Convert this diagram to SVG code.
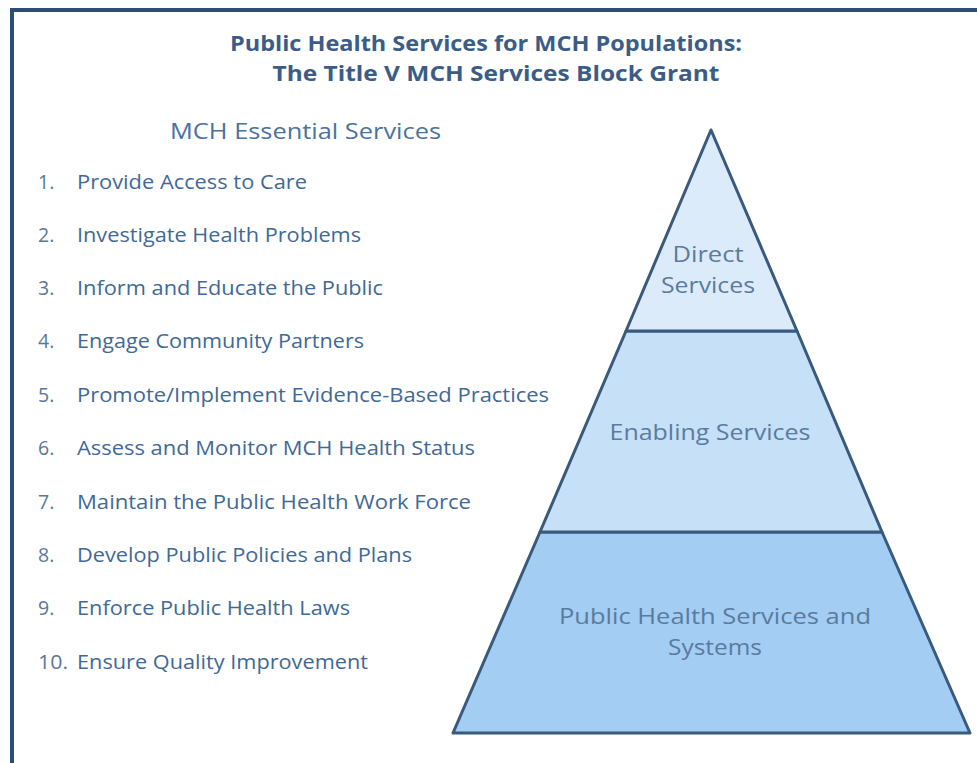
<svg xmlns="http://www.w3.org/2000/svg" width="977" height="763" viewBox="0 0 977 763">
<style>
.t{font-family:"Open Sans",Lato,"Liberation Sans",sans-serif;}
.title{font-size:21px;font-weight:bold;fill:#3b5c86;text-anchor:middle;}
.head{font-size:21.5px;fill:#4a72a0;}
.item{font-size:19.5px;fill:#3f6996;}
.num{font-size:19.5px;fill:#5a7898;}
.pl{font-size:21.5px;fill:#5a7b9e;text-anchor:middle;}
.tier{stroke:#395a7d;stroke-width:3;stroke-linejoin:round;}
</style>
<rect width="977" height="763" fill="#ffffff"/>
<g id="frame">
<path d="M12,763 V10 H977" fill="none" stroke="#2c4d74" stroke-width="4"/>
</g>
<g id="title" class="t">
<text class="title" x="486" y="51" textLength="512" lengthAdjust="spacingAndGlyphs">Public Health Services for MCH Populations:</text>
<text class="title" x="496" y="81" textLength="447" lengthAdjust="spacingAndGlyphs">The Title V MCH Services Block Grant</text>
</g>
<g id="essential-services" class="t">
<text class="head" x="170" y="139" textLength="271" lengthAdjust="spacingAndGlyphs">MCH Essential Services</text>
<text class="num" x="38" y="189">1.</text><text class="item" x="77" y="189" textLength="230" lengthAdjust="spacingAndGlyphs">Provide Access to Care</text>
<text class="num" x="38" y="242">2.</text><text class="item" x="77" y="242" textLength="284" lengthAdjust="spacingAndGlyphs">Investigate Health Problems</text>
<text class="num" x="38" y="295">3.</text><text class="item" x="77" y="295" textLength="306" lengthAdjust="spacingAndGlyphs">Inform and Educate the Public</text>
<text class="num" x="38" y="348">4.</text><text class="item" x="77" y="348" textLength="287" lengthAdjust="spacingAndGlyphs">Engage Community Partners</text>
<text class="num" x="38" y="402">5.</text><text class="item" x="77" y="402" textLength="472" lengthAdjust="spacingAndGlyphs">Promote/Implement Evidence-Based Practices</text>
<text class="num" x="38" y="455">6.</text><text class="item" x="77" y="455" textLength="398" lengthAdjust="spacingAndGlyphs">Assess and Monitor MCH Health Status</text>
<text class="num" x="38" y="509">7.</text><text class="item" x="77" y="509" textLength="394" lengthAdjust="spacingAndGlyphs">Maintain the Public Health Work Force</text>
<text class="num" x="38" y="562">8.</text><text class="item" x="77" y="562" textLength="335" lengthAdjust="spacingAndGlyphs">Develop Public Policies and Plans</text>
<text class="num" x="38" y="615">9.</text><text class="item" x="77" y="615" textLength="273" lengthAdjust="spacingAndGlyphs">Enforce Public Health Laws</text>
<text class="num" x="38" y="669" textLength="30" lengthAdjust="spacingAndGlyphs">10.</text><text class="item" x="77" y="669" textLength="291" lengthAdjust="spacingAndGlyphs">Ensure Quality Improvement</text>
</g>
<g id="tier-systems">
<polygon class="tier" points="540,532 882,532 970,733 453,733" fill="#a3cdf3"/>
<text class="t pl" x="715" y="624" textLength="312" lengthAdjust="spacingAndGlyphs">Public Health Services and</text>
<text class="t pl" x="715" y="655" textLength="94" lengthAdjust="spacingAndGlyphs">Systems</text>
</g>
<g id="tier-enabling">
<polygon class="tier" points="626,331 797,331 882,532 540,532" fill="#c6e0f8"/>
<text class="t pl" x="710" y="440" textLength="201" lengthAdjust="spacingAndGlyphs">Enabling Services</text>
</g>
<g id="tier-direct">
<polygon class="tier" points="711,130 797,331 626,331" fill="#dcebfa"/>
<text class="t pl" x="708" y="262" textLength="71" lengthAdjust="spacingAndGlyphs">Direct</text>
<text class="t pl" x="708" y="293" textLength="94" lengthAdjust="spacingAndGlyphs">Services</text>
</g>
</svg>
